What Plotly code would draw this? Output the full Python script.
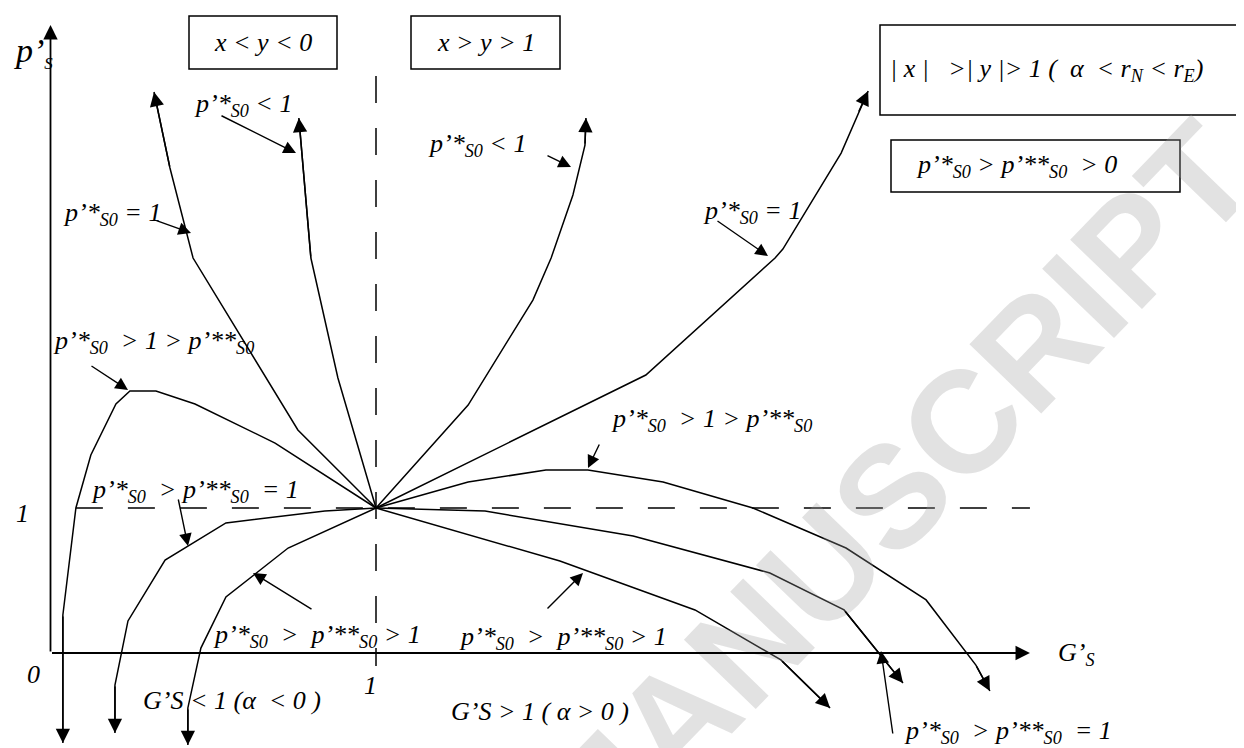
import plotly.graph_objects as go

W, H = 1244, 748
ORIGIN = (42.5, 645.0)   # pixel position of G'=0, p'=0
UNIT = (325.5, 145.0)    # pixels per unit along G' and p'

# curves all leave the point (1, 1); the last point is where the arrow head sits
up_left_eq1_g = [1.0, 0.760, 0.438, 0.367, 0.318]
up_left_eq1_p = [1.0, 1.538, 2.724, 3.345, 3.869]
up_left_lt1_g = [1.0, 0.883, 0.800, 0.763]
up_left_lt1_p = [1.0, 1.897, 2.724, 3.690]
hump_left_g = [1.0, 0.690, 0.444, 0.324, 0.244, 0.201, 0.124, 0.078, 0.038, 0.038]
hump_left_p = [1.0, 1.448, 1.717, 1.807, 1.807, 1.717, 1.366, 1.0, 0.262, -0.621]
flat_left_g = [1.0, 0.843, 0.539, 0.352, 0.238, 0.198, 0.198]
flat_left_p = [1.0, 0.979, 0.897, 0.641, 0.221, -0.221, -0.552]
low_left_g = [1.0, 0.730, 0.539, 0.462, 0.422, 0.422]
low_left_p = [1.0, 0.724, 0.386, 0.034, -0.379, -0.634]
low_right_g = [1.0, 1.565, 1.980, 2.244, 2.395]
low_right_p = [1.0, 0.634, 0.297, -0.048, -0.379]
flat_right_g = [1.0, 1.335, 1.790, 2.210, 2.438, 2.619]
flat_right_p = [1.0, 0.979, 0.807, 0.552, 0.297, -0.207]
hump_right_g = [1.0, 1.283, 1.522, 1.651, 1.882, 2.158, 2.444, 2.690, 2.843, 2.886]
hump_right_p = [1.0, 1.179, 1.262, 1.262, 1.179, 1.0, 0.724, 0.366, -0.083, -0.262]
up_right_lt1_g = [1.0, 1.283, 1.482, 1.538, 1.605, 1.642, 1.645]
up_right_lt1_p = [1.0, 1.710, 2.434, 2.724, 3.159, 3.503, 3.690]
up_right_eq1_g = [1.0, 1.829, 2.226, 2.250, 2.429, 2.481, 2.512]
up_right_eq1_p = [1.0, 1.917, 2.724, 2.786, 3.448, 3.724, 3.876]

# axes and the two dashed guide lines at G'=1 and p'=1
x_axis_end = 3.009
y_axis_end = 4.331
guide_v_p = [3.979, -0.090]
guide_h_g = [0.078, 3.009]

curves = [
    (up_left_eq1_g, up_left_eq1_p), (up_left_lt1_g, up_left_lt1_p),
    (hump_left_g, hump_left_p), (flat_left_g, flat_left_p),
    (low_left_g, low_left_p), (low_right_g, low_right_p),
    (flat_right_g, flat_right_p), (hump_right_g, hump_right_p),
    (up_right_lt1_g, up_right_lt1_p), (up_right_eq1_g, up_right_eq1_p),
]

SERIF = dict(family='Liberation Serif', size=26, color='black', style='italic')
S0 = '<sub>S0</sub>'
sp = '\u00a0'

# (text, left px, middle px)
labels = [
    (f'p’*{S0} < 1', 184, 97),
    (f'p’*{S0} = 1', 53, 206),
    (f'p’*{S0}{sp} > 1 > p’**{S0}', 43, 334),
    (f'p’*{S0}{sp} > p’**{S0}{sp} = 1', 81, 483),
    (f'p’*{S0}{sp} >{sp} p’**{S0} > 1', 203, 628),
    (f'G’S < 1 (α{sp} < 0 )', 133, 692),
    (f'G’S > 1 ( α > 0 )', 441, 703),
    (f'p’*{S0}{sp} >{sp} p’**{S0} > 1', 449, 630),
    (f'p’*{S0}{sp} > p’**{S0}{sp} = 1', 894, 724),
    (f'p’*{S0}{sp} > 1 > p’**{S0}', 601, 412),
    (f'p’*{S0} < 1', 418, 137),
    (f'p’*{S0} = 1', 693, 204),
    ('1', 6, 505),
    ('0', 17, 666),
    ('1', 354, 677),
    ('G’<sub>S</sub>', 1048, 646),
]

# pointer arrows from a label to its curve: (tail px, head px)
pointers = [
    ((212, 107), (288, 145)), ((147, 212), (183, 225)),
    ((82, 357), (120, 382)), ((170, 490), (180, 538)),
    ((305, 602), (245, 565)), ((538, 602), (575, 565)),
    ((885, 727), (873, 643)), ((592, 435), (580, 460)),
    ((538, 147), (563, 159)), ((708, 212), (760, 248)),
]

# boxed notes: (text, x0, y0, x1, y1, text left px or None for centred)
boxes = [
    ('x < y < 0', 181, 8, 329, 61, None),
    ('x > y > 1', 403, 8, 552, 61, None),
    (f'| x |{sp}{sp} >| y |> 1 ({sp} α{sp} < r<sub>N</sub>{sp}< r<sub>E</sub>)', 872, 17, 1242, 107, 880),
    (f'p’*{S0} > p’**{S0}{sp} > 0', 883, 132, 1172, 184, 906),
]


def paper(px, py):
    return px / W, 1 - py / H


fig = go.Figure()
ann = []
shapes = []

# watermark
wx, wy = paper(884, 488)
ann.append(dict(x=wx, y=wy, xref='paper', yref='paper', text='MANUSCRIPT', showarrow=False,
                xanchor='center', yanchor='middle', textangle=-46,
                font=dict(family='Liberation Sans', size=145, color='rgba(160,160,160,0.3)', weight='bold')))

for xs, ys in [([1, 1], guide_v_p), (guide_h_g, [1, 1])]:
    fig.add_trace(go.Scatter(x=xs, y=ys, mode='lines', hoverinfo='skip',
                             line=dict(color='black', width=1.5, dash='27px,25px')))

for g, p in curves:
    fig.add_trace(go.Scatter(x=g, y=p, mode='lines', hoverinfo='skip',
                             line=dict(color='black', width=1.5)))
    ann.append(dict(x=g[-1], y=p[-1], ax=g[-2], ay=p[-2], xref='x', yref='y', axref='x', ayref='y',
                    text='', showarrow=True, arrowhead=2, arrowsize=1.9, arrowwidth=1.5,
                    arrowcolor='black', standoff=0))

# axes with arrows
ann.append(dict(x=x_axis_end, y=0, ax=0, ay=0, xref='x', yref='y', axref='x', ayref='y', text='',
                showarrow=True, arrowhead=2, arrowsize=1.6, arrowwidth=1.8, arrowcolor='black'))
ann.append(dict(x=0, y=y_axis_end, ax=0, ay=0, xref='x', yref='y', axref='x', ayref='y', text='',
                showarrow=True, arrowhead=2, arrowsize=1.6, arrowwidth=1.8, arrowcolor='black'))

for (tx, ty), (hx, hy) in pointers:
    x, y = paper(hx, hy)
    ann.append(dict(x=x, y=y, xref='paper', yref='paper', ax=tx - hx, ay=ty - hy, text='',
                    showarrow=True, arrowhead=2, arrowsize=1.8, arrowwidth=1.4, arrowcolor='black', standoff=0))

for text, lx, my in labels:
    x, y = paper(lx, my)
    ann.append(dict(x=x, y=y, xref='paper', yref='paper', text=text, showarrow=False,
                    xanchor='left', yanchor='middle', font=SERIF))

# y axis title p'_S
x, y = paper(4, 44)
ann.append(dict(x=x, y=y, xref='paper', yref='paper', showarrow=False, xanchor='left', yanchor='middle',
                text="p’<sub><span style='font-size:17px'>S</span></sub>",
                font=dict(family='Liberation Serif', size=34, color='black', style='italic')))

for text, x0, y0, x1, y1, tl in boxes:
    a0, b0 = paper(x0, y0)
    a1, b1 = paper(x1, y1)
    shapes.append(dict(type='rect', xref='paper', yref='paper', x0=a0, y0=b0, x1=a1, y1=b1,
                       line=dict(color='black', width=1.5)))
    if tl is None:
        cx, cy = paper((x0 + x1) / 2, (y0 + y1) / 2)
        anchor = 'center'
    else:
        cx, cy = paper(tl, (y0 + y1) / 2)
        anchor = 'left'
    ann.append(dict(x=cx, y=cy, xref='paper', yref='paper', text=text, showarrow=False,
                    xanchor=anchor, yanchor='middle', font=SERIF))

fig.update_layout(
    width=W, height=H,
    margin=dict(l=0, r=0, t=0, b=0),
    paper_bgcolor='white', plot_bgcolor='white',
    showlegend=False,
    xaxis=dict(visible=False, range=[-ORIGIN[0] / UNIT[0], (W - ORIGIN[0]) / UNIT[0]]),
    yaxis=dict(visible=False, range=[(ORIGIN[1] - H) / UNIT[1], ORIGIN[1] / UNIT[1]]),
    annotations=ann,
    shapes=shapes,
)

fig.write_html('out.html')
